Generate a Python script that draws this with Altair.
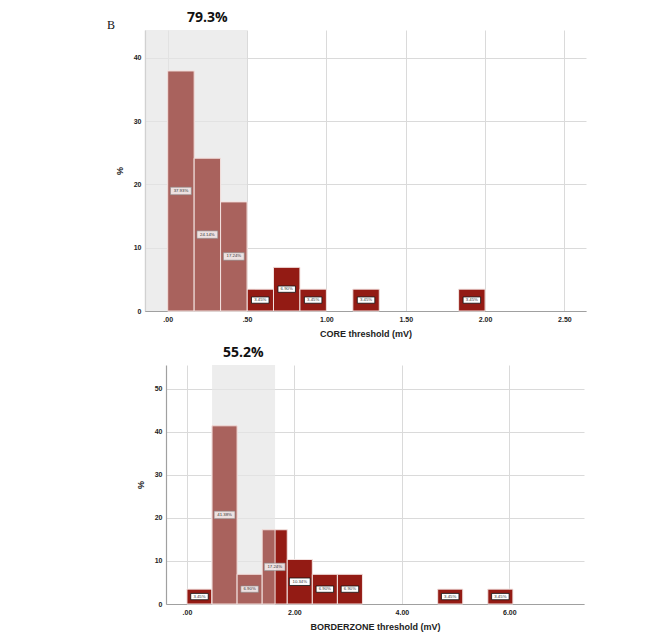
import altair as alt
import pandas as pd

# ---------------- data ----------------
core_bin_start = [0.0, 0.1667, 0.3333, 0.5, 0.6667, 0.8333, 1.1667, 1.8333]
core_bin_end = [0.1667, 0.3333, 0.5, 0.6667, 0.8333, 1.0, 1.3333, 2.0]
core_pct = [37.93, 24.14, 17.24, 3.45, 6.90, 3.45, 3.45, 3.45]
core_labels = ["37.93%", "24.14%", "17.24%", "3.45%", "6.90%", "3.45%", "3.45%", "3.45%"]

bz_bin_start = [0.0, 0.4667, 0.9333, 1.4, 1.8667, 2.3333, 2.8, 4.6667, 5.6]
bz_bin_end = [0.4667, 0.9333, 1.4, 1.8667, 2.3333, 2.8, 3.2667, 5.1333, 6.0667]
bz_pct = [3.45, 41.38, 6.90, 17.24, 10.34, 6.90, 6.90, 3.45, 3.45]
bz_labels = ["3.45%", "41.38%", "6.90%", "17.24%", "10.34%", "6.90%", "6.90%", "3.45%", "3.45%"]

core_x_ticks = [0.0, 0.5, 1.0, 1.5, 2.0, 2.5]
core_y_ticks = [0, 10, 20, 30, 40]
bz_x_ticks = [0.0, 2.0, 4.0, 6.0]
bz_y_ticks = [0, 10, 20, 30, 40, 50]

core_x_domain = [-0.143, 2.636]
core_y_domain = [0, 44.4]
bz_x_domain = [-0.39, 7.39]
bz_y_domain = [0, 55.5]

core_shade = [-0.143, 0.5]
bz_shade = [0.467, 1.64]
core_annot_text, core_annot_x = "79.3%", 0.25
bz_annot_text, bz_annot_x = "55.2%", 1.05

LIGHT = "#a9625d"
DARK = "#931b14"
BOX = "M-1,-0.36L1,-0.36L1,0.36L-1,0.36Z"
FONT = "Liberation Sans"


def panel(starts, ends, pct, labels, shade, xdom, ydom, xticks, yticks,
          annot_text, annot_x, xtitle, w, h, letter=None):
    bars = pd.DataFrame({"start": starts, "end": ends, "pct": pct, "label": labels})
    bars["mid"] = (bars["start"] + bars["end"]) / 2
    bars["half"] = bars["pct"] / 2
    bars["lo"] = shade[0]
    bars["hi"] = shade[1]
    bars["zero"] = 0
    bars["light"] = (bars["mid"] > shade[0]) & (bars["mid"] < shade[1])
    bars["bsize"] = (bars["label"].str.len() * 3.3 + 1.0) ** 2

    shade_df = pd.DataFrame({"lo": [shade[0]], "hi": [shade[1]],
                             "top": [ydom[1]], "zero": [0]})
    annot_df = pd.DataFrame({"ax": [annot_x], "t": [annot_text]})

    xaxis = alt.Axis(values=xticks, title=xtitle, grid=True, ticks=False,
                     labelExpr="datum.value < 1 ? substring(format(datum.value, '.2f'), 1) : format(datum.value, '.2f')",
                     labelPadding=4, titlePadding=7)
    yaxis = alt.Axis(values=yticks, title="%", grid=True, ticks=False, format="d",
                     labelPadding=4, titlePadding=9)
    xs = alt.Scale(domain=xdom, nice=False, zero=False)
    ys = alt.Scale(domain=ydom, nice=False)

    def X(f):
        return alt.X(f, type="quantitative", scale=xs, axis=xaxis)

    def Y(f):
        return alt.Y(f, type="quantitative", scale=ys, axis=yaxis)

    shade_l = alt.Chart(shade_df).mark_rect(color="#e6e6e6", opacity=0.7).encode(
        x=X("lo"), x2="hi", y=Y("top"), y2="zero")

    dark_l = alt.Chart(bars).mark_rect(color=DARK, stroke="#f3e3e1", strokeWidth=1).encode(
        x=X("start"), x2="end", y=Y("pct"), y2="zero")

    light_l = alt.Chart(bars).transform_filter(
        "datum.start < datum.hi && datum.end > datum.lo"
    ).transform_calculate(
        x0="max(datum.start, datum.lo)", x1="min(datum.end, datum.hi)"
    ).mark_rect(color=LIGHT, stroke="#f3e3e1", strokeWidth=1).encode(
        x=X("x0"), x2="x1", y=Y("pct"), y2="zero")

    box_light = alt.Chart(bars).transform_filter("datum.light").mark_point(
        shape=BOX, filled=True, fill="#f4f0ef", fillOpacity=0.9,
        stroke="#8a8a8a", strokeWidth=0.6, opacity=1
    ).encode(x=X("mid"), y=Y("half"), size=alt.Size("bsize:Q", scale=None, legend=None))

    box_dark = alt.Chart(bars).transform_filter("!datum.light").mark_point(
        shape=BOX, filled=True, fill="#ffffff", stroke="#111111",
        strokeWidth=0.8, opacity=1
    ).encode(x=X("mid"), y=Y("half"), size=alt.Size("bsize:Q", scale=None, legend=None))

    txt = alt.Chart(bars).mark_text(fontSize=4.3, font=FONT, color="#333333").encode(
        x=X("mid"), y=Y("half"), text="label:N")

    annot = alt.Chart(annot_df).mark_text(
        fontSize=14, fontWeight="bold", font="Open Sans", color="#111111"
    ).encode(x=X("ax"), y=alt.value(-12), text="t:N")

    layers = [shade_l, dark_l, light_l, box_light, box_dark, txt, annot]
    if letter:
        let_df = pd.DataFrame({"t": [letter]})
        layers.append(alt.Chart(let_df).mark_text(
            fontSize=12, font="Liberation Serif", color="#111111"
        ).encode(x=alt.value(-34), y=alt.value(-5), text="t:N"))

    return alt.layer(*layers).properties(width=w, height=h)


top = panel(core_bin_start, core_bin_end, core_pct, core_labels, core_shade,
            core_x_domain, core_y_domain, core_x_ticks, core_y_ticks,
            core_annot_text, core_annot_x, "CORE threshold (mV)", 441, 281, letter="B")

bottom = panel(bz_bin_start, bz_bin_end, bz_pct, bz_labels, bz_shade,
               bz_x_domain, bz_y_domain, bz_x_ticks, bz_y_ticks,
               bz_annot_text, bz_annot_x, "BORDERZONE threshold (mV)", 418, 239)

spacer = alt.Chart(pd.DataFrame({"a": [0]})).mark_point(opacity=0).encode(
    x=alt.value(0), y=alt.value(0)).properties(width=1, height=239)

chart = alt.vconcat(
    top,
    alt.hconcat(spacer, bottom, spacing=20, bounds="flush"),
    spacing=54, bounds="flush"
).properties(
    padding={"left": 106, "top": 11, "right": 10, "bottom": 5}
).configure_view(stroke=None).configure_axis(
    domainColor="#a0a0a0", domainWidth=1.2, gridColor="#dadada", gridWidth=1,
    labelFont=FONT, labelFontSize=7, labelFontWeight="bold", labelColor="#222222",
    titleFont=FONT, titleFontSize=9, titleFontWeight="bold", titleColor="#222222",
)

chart.save("out.html", embed_options={"renderer": "svg", "actions": False})
